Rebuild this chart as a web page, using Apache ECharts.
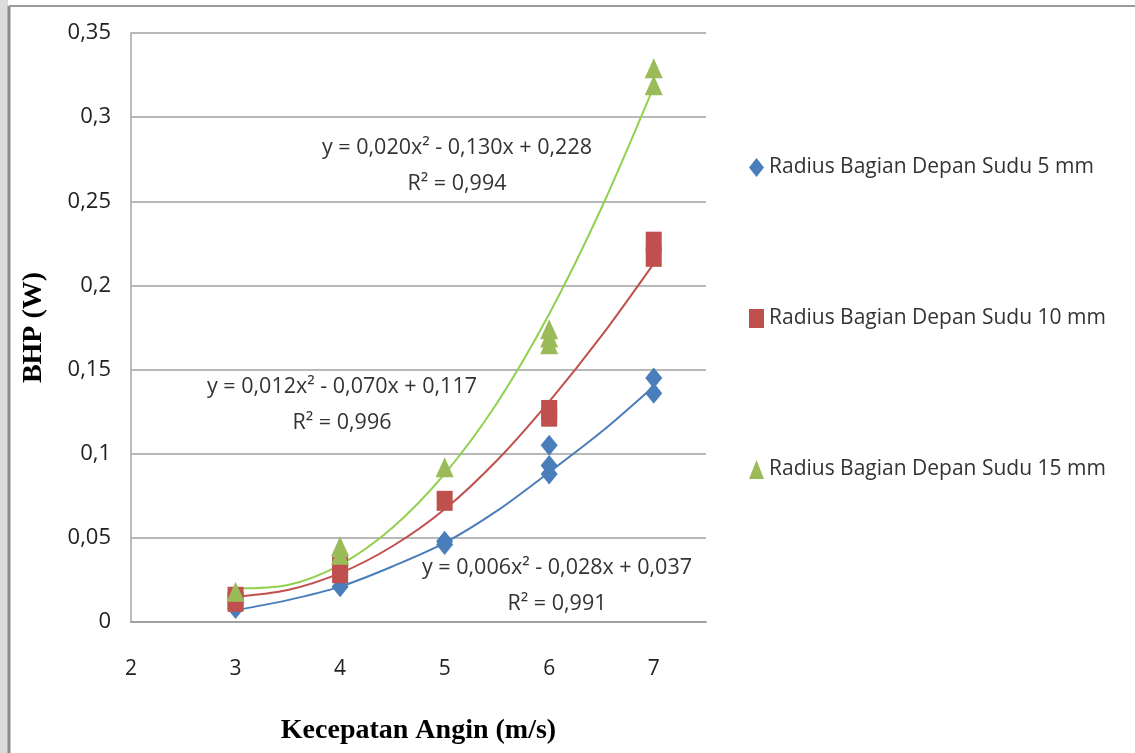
<!DOCTYPE html>
<html><head><meta charset="utf-8">
<script src="https://cdn.jsdelivr.net/npm/echarts@6/dist/echarts.min.js"></script>
<style>html,body{margin:0;padding:0;background:#fff}#c{width:1135px;height:753px}</style>
</head><body><div id="c"></div>
<script>
// Measured points [x, y]
const names = ['Radius Bagian Depan Sudu 5 mm','Radius Bagian Depan Sudu 10 mm','Radius Bagian Depan Sudu 15 mm'];
const pts5  = [[3,0.008],[4,0.021],[5,0.046],[5,0.048],[6,0.088],[6,0.093],[6,0.105],[7,0.136],[7,0.145]];
const pts10 = [[3,0.012],[3,0.015],[4,0.029],[4,0.033],[5,0.072],[6,0.122],[6,0.126],[7,0.217],[7,0.226]];
const pts15 = [[3,0.018],[4,0.040],[4,0.045],[5,0.092],[6,0.165],[6,0.169],[6,0.174],[7,0.319],[7,0.329]];
// Trendline values
const trendX = [3,3.5,4,4.5,5,5.5,6,6.5,7];
const trend5  = [0.007,0.013,0.021,0.033,0.047,0.066,0.089,0.113,0.140];
const trend10 = [0.015,0.019,0.029,0.045,0.067,0.096,0.131,0.170,0.213];
const trend15 = [0.020,0.022,0.034,0.056,0.088,0.130,0.183,0.246,0.318];
const xTicks = [2,3,4,5,6,7];
const eq = [
  {t:'y = 0,020x² - 0,130x + 0,228', r:'R² = 0,994', x:457, y:148},
  {t:'y = 0,012x² - 0,070x + 0,117', r:'R² = 0,996', x:342, y:387},
  {t:'y = 0,006x² - 0,028x + 0,037', r:'R² = 0,991', x:557, y:568}
];
const colors = ['#4A7EBB','#C0504D','#9BBB59'];
const lineColors = ['#4A7EBB','#C0504D','#92D050'];
const font = '"Open Sans", sans-serif';

const zip = (xs, ys) => xs.map((x,i)=>[x, ys[i]]);
const chart = echarts.init(document.getElementById('c'));
const graphics = [
  {type:'rect', shape:{x:0,y:0,width:8,height:753}, style:{fill:'#dcdcdc'}, silent:true},
  {type:'line', shape:{x1:9,y1:6,x2:9,y2:753}, style:{stroke:'#8a8a8a',lineWidth:3}, silent:true},
  {type:'line', shape:{x1:9,y1:6,x2:1135,y2:6}, style:{stroke:'#9a9a9a',lineWidth:2}, silent:true}
];
eq.forEach(e=>{
  graphics.push({type:'text', x:e.x, y:e.y, style:{text:e.t, font:'21.5px '+font, fill:'#333', align:'center', verticalAlign:'middle'}, silent:true});
  graphics.push({type:'text', x:e.x, y:e.y+36, style:{text:e.r, font:'21.5px '+font, fill:'#333', align:'center', verticalAlign:'middle'}, silent:true});
});
const scatterStyle = c => ({color:c, opacity:1});
const trendLine = (xs, ys, c) => ({type:'line', data:zip(xs,ys), smooth:0.3, showSymbol:false,
  lineStyle:{color:c, width:2}, z:2, silent:true});
chart.setOption({
  animation:false,
  backgroundColor:'#fff',
  grid:{left:131, right:429, top:33, bottom:131},
  legend:{
    orient:'vertical', left:744, top:152, itemGap:130, itemWidth:15, itemHeight:19,
    data:names, textStyle:{fontSize:21, color:'#333', fontFamily:font}
  },
  xAxis:{
    type:'value', min:2, max:7.5, interval:1,
    name:'Kecepatan Angin (m/s)', nameLocation:'middle', nameGap:95,
    nameTextStyle:{fontFamily:'"Liberation Serif", serif', fontWeight:'bold', fontSize:28, color:'#000'},
    axisLine:{lineStyle:{color:'#a0a0a0', width:2}},
    axisTick:{show:false},
    splitLine:{show:false},
    axisLabel:{margin:37, fontSize:21, color:'#222', fontFamily:font, showMaxLabel:false,
      formatter:v=> xTicks.includes(v) ? String(v) : ''}
  },
  yAxis:{
    type:'value', min:0, max:0.35, interval:0.05,
    name:'BHP (W)', nameLocation:'middle', nameGap:83, nameRotate:90,
    nameTextStyle:{fontFamily:'"Liberation Serif", serif', fontWeight:'bold', fontSize:28, color:'#000'},
    axisLine:{show:true, lineStyle:{color:'#a6a6a6', width:1.5}},
    axisTick:{show:false},
    splitLine:{lineStyle:{color:'#a0a0a0', width:1.5}},
    axisLabel:{margin:20, fontSize:22, color:'#222', fontFamily:font,
      formatter:v=> v===0 ? '0' : String(Math.round(v*100)/100).replace('.',',')}
  },
  graphic:graphics,
  series:[
    trendLine(trendX, trend5, lineColors[0]),
    trendLine(trendX, trend10, lineColors[1]),
    trendLine(trendX, trend15, lineColors[2]),
    {name:names[0], type:'scatter', data:pts5, symbol:'diamond', symbolSize:[17,21], itemStyle:scatterStyle(colors[0]), z:3},
    {name:names[1], type:'scatter', data:pts10, symbol:'rect', symbolSize:[16,20], itemStyle:scatterStyle(colors[1]), z:3},
    {name:names[2], type:'scatter', data:pts15, symbol:'triangle', symbolSize:[18,20], itemStyle:scatterStyle(colors[2]), z:4}
  ]
});
</script></body></html>
